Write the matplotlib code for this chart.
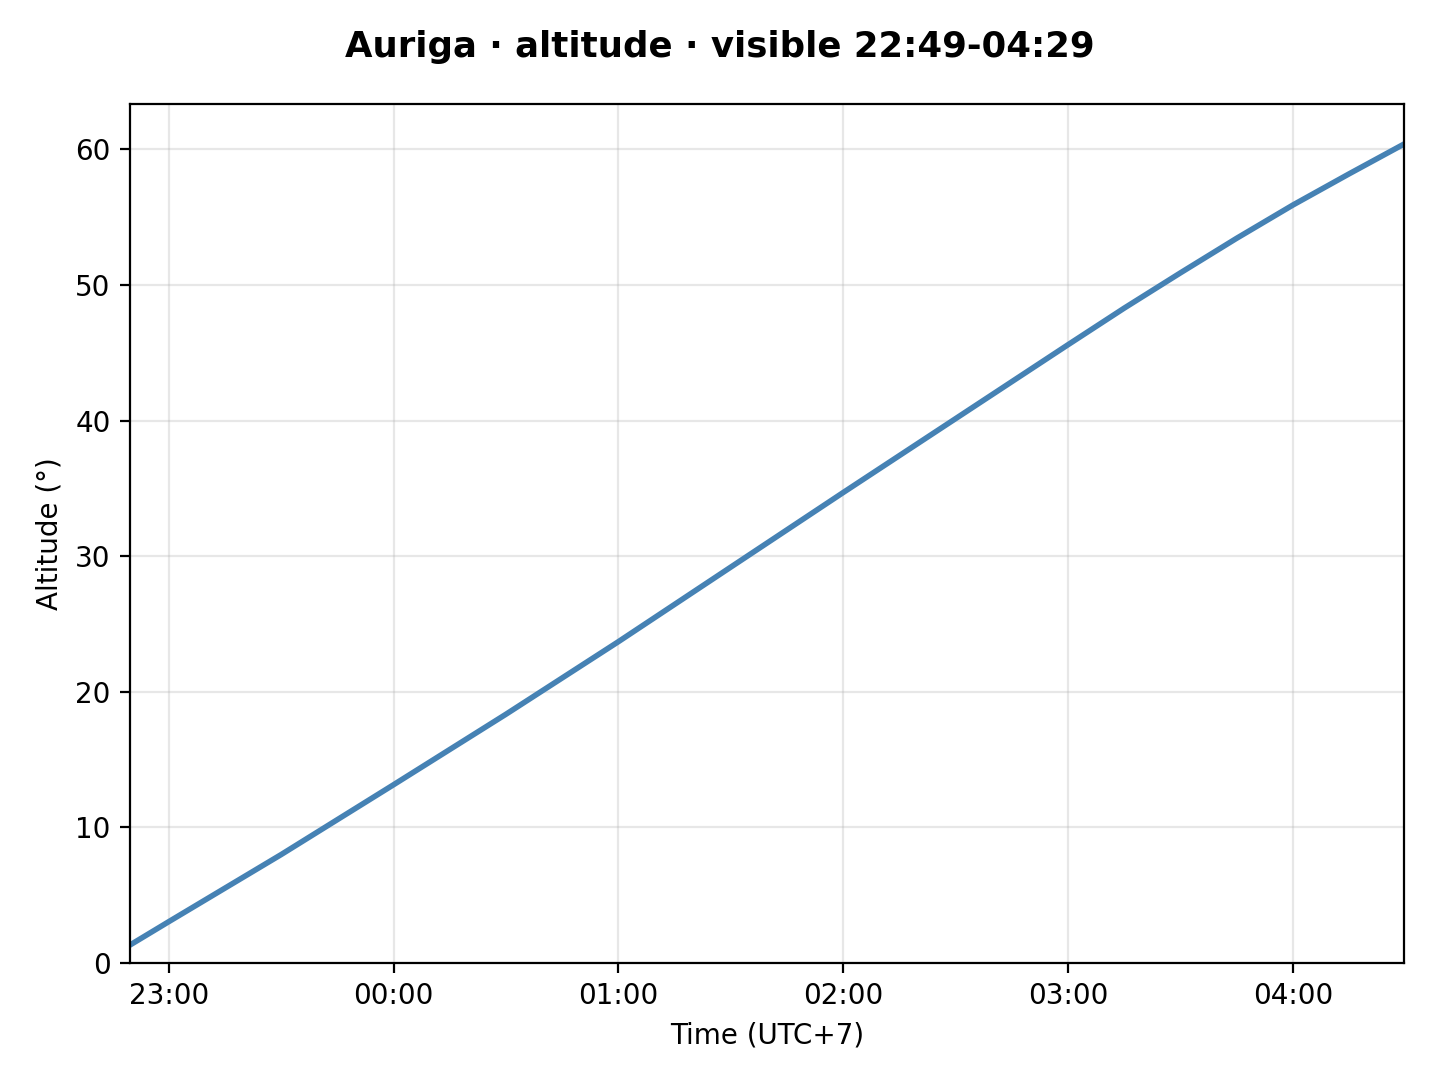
import pandas as pd
import matplotlib
matplotlib.use("Agg")
import matplotlib.pyplot as plt
import matplotlib.dates as mdates

# Altitude of Auriga (30 min steps, 15 min near the end)
times = ["2024-01-01 22:49:40", "2024-01-01 23:00:00", "2024-01-01 23:30:00",
         "2024-01-02 00:00:00", "2024-01-02 00:30:00", "2024-01-02 01:00:00",
         "2024-01-02 01:30:00", "2024-01-02 02:00:00", "2024-01-02 02:30:00",
         "2024-01-02 03:00:00", "2024-01-02 03:15:00", "2024-01-02 03:30:00",
         "2024-01-02 03:45:00", "2024-01-02 04:00:00", "2024-01-02 04:15:00",
         "2024-01-02 04:29:40"]
altitude = [1.33, 3.05, 8.0, 13.15, 18.35, 23.7, 29.2, 34.7, 40.15,
            45.6, 48.3, 50.9, 53.45, 55.9, 58.2, 60.4]

t = pd.to_datetime(times, format="%Y-%m-%d %H:%M:%S")

fig, ax = plt.subplots(figsize=(7.2, 5.4), dpi=200)
fig.subplots_adjust(left=0.0903, right=0.975, top=0.9037, bottom=0.1083)

ax.plot(t, altitude, color="#4682b4", linewidth=2)
ax.set_xlim(t[0], t[-1])
ax.set_ylim(bottom=0)
ax.grid(True, alpha=0.3)
ax.xaxis.set_major_locator(mdates.HourLocator())
ax.xaxis.set_major_formatter(mdates.DateFormatter("%H:%M"))

ax.set_xlabel("Time (UTC+7)")
ax.set_ylabel("Altitude (°)")
fig.suptitle("Auriga · altitude · visible 22:49-04:29", fontsize=12.8, fontweight="bold", y=0.972)

plt.savefig("out.png", dpi=200)
